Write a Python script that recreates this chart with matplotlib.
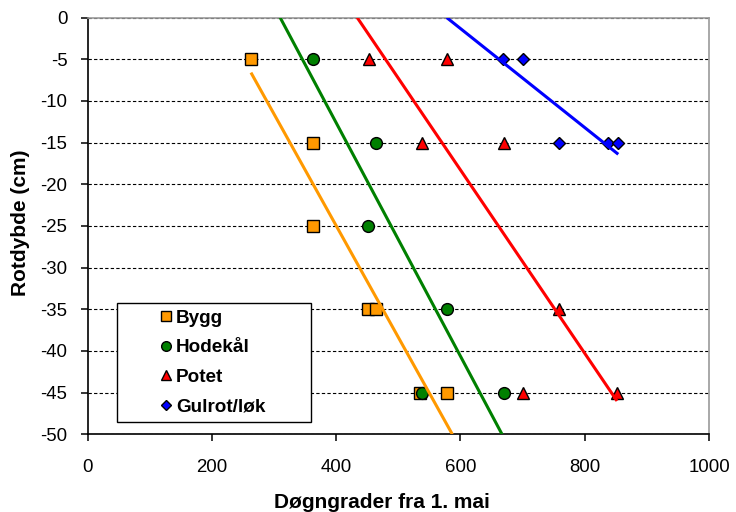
import matplotlib
matplotlib.use('Agg')
import matplotlib.pyplot as plt

plt.rcParams['font.family'] = ['Liberation Sans', 'DejaVu Sans']

# ---- data ----
series_names = ['Bygg', 'Hodekål', 'Potet', 'Gulrot/løk']

bygg_x = [263, 363, 363, 452, 465, 535, 578]
bygg_y = [-5, -15, -25, -35, -35, -45, -45]

hodekal_x = [363, 464, 452, 578, 538, 670]
hodekal_y = [-5, -15, -25, -35, -45, -45]

potet_x = [453, 579, 539, 670, 759, 701, 852]
potet_y = [-5, -5, -15, -15, -35, -45, -45]

gulrot_x = [669, 700, 759, 837, 853]
gulrot_y = [-5, -5, -15, -15, -15]

# trend lines (start / end)
bygg_trend_x = [263, 587]
bygg_trend_y = [-6.6, -50]
hodekal_trend_x = [310, 667]
hodekal_trend_y = [0, -50]
potet_trend_x = [434, 852]
potet_trend_y = [0, -46]
gulrot_trend_x = [578, 854]
gulrot_trend_y = [0, -16.4]

x_ticks = [0, 200, 400, 600, 800, 1000]
y_ticks = [0, -5, -10, -15, -20, -25, -30, -35, -40, -45, -50]

x_title = 'Døgngrader fra 1. mai'
y_title = 'Rotdybde (cm)'

# ---- figure ----
fig = plt.figure(figsize=(7.36, 5.12), dpi=100)
ax = fig.add_axes([87.5 / 736, 1 - 434.3 / 512, (709 - 87.5) / 736, (434.3 - 17.6) / 512])

c_orange = '#FF9900'
c_green = '#008000'
c_red = '#FF0000'
c_blue = '#0000FF'

ax.plot(bygg_x, bygg_y, ls='none', marker='s', ms=8, mfc=c_orange, mec='black', mew=1.0,
        label=series_names[0], zorder=3)
ax.plot(hodekal_x, hodekal_y, ls='none', marker='o', ms=8.5, mfc=c_green, mec='black', mew=1.0,
        label=series_names[1], zorder=3)
ax.plot(potet_x, potet_y, ls='none', marker='^', ms=8, mfc=c_red, mec='black', mew=1.0,
        label=series_names[2], zorder=3)
ax.plot(gulrot_x, gulrot_y, ls='none', marker='D', ms=6, mfc=c_blue, mec='black', mew=1.0,
        label=series_names[3], zorder=3)

lw = 2.2
ax.plot(bygg_trend_x, bygg_trend_y, color=c_orange, lw=lw, zorder=4, solid_capstyle='butt')
ax.plot(hodekal_trend_x, hodekal_trend_y, color=c_green, lw=lw, zorder=4, solid_capstyle='butt')
ax.plot(potet_trend_x, potet_trend_y, color=c_red, lw=lw, zorder=4, solid_capstyle='butt')
ax.plot(gulrot_trend_x, gulrot_trend_y, color=c_blue, lw=lw, zorder=4, solid_capstyle='butt')

ax.set_xlim(0, 1000)
ax.set_ylim(-50, 0)
ax.set_xticks(x_ticks)
ax.set_yticks(y_ticks)
ax.set_xticklabels([str(v) for v in x_ticks])
ax.set_yticklabels([str(v) for v in y_ticks])

ax.set_axisbelow(True)
ax.yaxis.grid(True, color='black', lw=0.8, linestyle=(0, (3.0, 2.0)))
ax.xaxis.grid(False)

for side in ['left', 'bottom']:
    ax.spines[side].set_color('black')
    ax.spines[side].set_linewidth(1.2)
for side in ['top', 'right']:
    ax.spines[side].set_color('#9a9a9a')
    ax.spines[side].set_linewidth(1.2)

ax.tick_params(axis='both', direction='out', length=5, width=1.1, color='black',
               labelsize=13.4, top=False, right=False)
ax.tick_params(axis='x', pad=13)
ax.tick_params(axis='y', pad=9.5)

ax.set_xlabel(x_title, fontsize=15, fontweight='bold', va='center', ha='center')
ax.xaxis.set_label_coords(0.474, -0.1625)
ax.set_ylabel(y_title, fontsize=15, fontweight='bold', va='center', ha='center')
ax.yaxis.set_label_coords(-0.107, 0.507)

leg = ax.legend(loc='lower left', bbox_to_anchor=(0.047, 0.029, 0.313, 0.292), mode='expand',
                borderaxespad=0, fancybox=False, frameon=True, edgecolor='black',
                prop={'weight': 'bold', 'size': 13.6}, borderpad=0.35, labelspacing=0.66,
                handlelength=4.55, handletextpad=-1.75, numpoints=1, markerscale=0.82)
leg.get_frame().set_linewidth(1.0)
leg.get_frame().set_alpha(None)
leg.get_frame().set_facecolor('white')

fig.savefig('out.png', dpi=100, facecolor='white')
